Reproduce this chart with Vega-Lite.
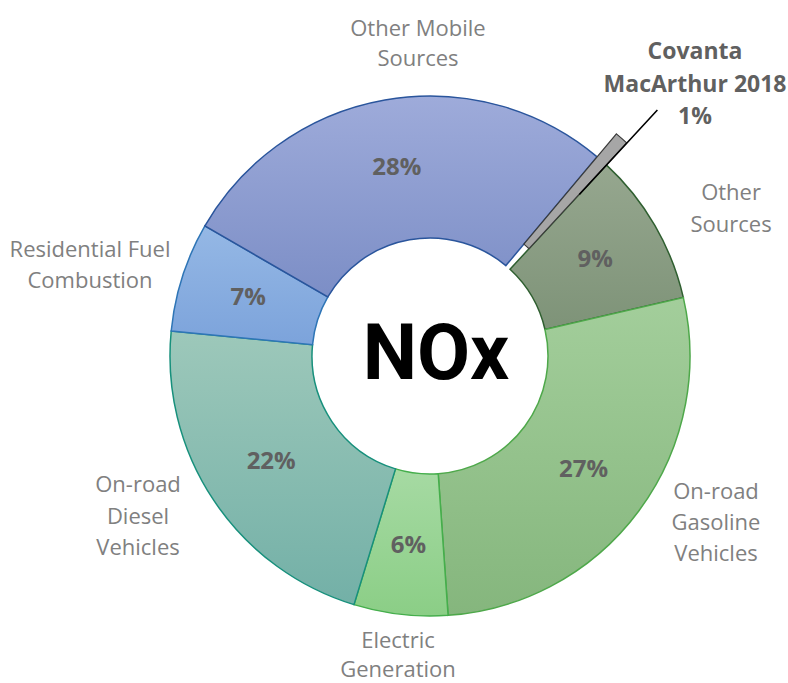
{
  "$schema": "https://vega.github.io/schema/vega-lite/v6.json",
  "width": 520,
  "height": 520,
  "autosize": {"type": "none"},
  "padding": {"left": 170, "top": 96, "right": 98, "bottom": 67},
  "background": "white",
  "config": {"view": {"stroke": null}},
  "data": {
    "values": [
      {"idx": 1, "category": "Covanta MacArthur 2018", "label": "Covanta\nMacArthur 2018\n1%", "value": 0.75, "pct": "1%"},
      {"idx": 2, "category": "Other Sources", "label": "Other\nSources", "value": 9.53, "pct": "9%"},
      {"idx": 3, "category": "On-road Gasoline Vehicles", "label": "On-road\nGasoline\nVehicles", "value": 27.5, "pct": "27%"},
      {"idx": 4, "category": "Electric Generation", "label": "Electric\nGeneration", "value": 5.83, "pct": "6%"},
      {"idx": 5, "category": "On-road Diesel Vehicles", "label": "On-road\nDiesel\nVehicles", "value": 21.81, "pct": "22%"},
      {"idx": 6, "category": "Residential Fuel Combustion", "label": "Residential Fuel\nCombustion", "value": 6.81, "pct": "7%"},
      {"idx": 7, "category": "Other Mobile Sources", "label": "Other Mobile\nSources", "value": 27.77, "pct": "28%"}
    ]
  },
  "encoding": {
    "theta": {"field": "value", "type": "quantitative", "stack": true, "scale": {"domain": [0, 100], "range": [0.69813, 6.98132]}},
    "order": {"field": "idx", "type": "quantitative"}
  },
  "layer": [
    {
      "mark": {"type": "arc", "radius": 260, "radius2": 118, "strokeWidth": 1.5},
      "encoding": {
        "fill": {
          "condition": [
            {"test": "datum.idx === 2", "value": {"gradient": "linear", "x1": 0, "y1": 0, "x2": 0, "y2": 1, "stops": [{"offset": 0, "color": "#96A78F"}, {"offset": 1, "color": "#7E9378"}]}},
            {"test": "datum.idx === 3", "value": {"gradient": "linear", "x1": 0, "y1": 0, "x2": 0, "y2": 1, "stops": [{"offset": 0, "color": "#A3CE9B"}, {"offset": 1, "color": "#85B67D"}]}},
            {"test": "datum.idx === 4", "value": {"gradient": "linear", "x1": 0, "y1": 0, "x2": 0, "y2": 1, "stops": [{"offset": 0, "color": "#A6DAA3"}, {"offset": 1, "color": "#8BCE86"}]}},
            {"test": "datum.idx === 5", "value": {"gradient": "linear", "x1": 0, "y1": 0, "x2": 0, "y2": 1, "stops": [{"offset": 0, "color": "#9DC8BA"}, {"offset": 1, "color": "#73B0A7"}]}},
            {"test": "datum.idx === 6", "value": {"gradient": "linear", "x1": 0, "y1": 0, "x2": 0, "y2": 1, "stops": [{"offset": 0, "color": "#95B8E5"}, {"offset": 1, "color": "#7CA3DB"}]}},
            {"test": "datum.idx === 7", "value": {"gradient": "linear", "x1": 0, "y1": 0, "x2": 0, "y2": 1, "stops": [{"offset": 0, "color": "#9EABDA"}, {"offset": 1, "color": "#7C8EC6"}]}}
          ],
          "value": "#A6A6A6"
        },
        "stroke": {
          "condition": [
            {"test": "datum.idx === 2", "value": "#2F5F30"},
            {"test": "datum.idx === 3", "value": "#4EA84A"},
            {"test": "datum.idx === 4", "value": "#45AE4C"},
            {"test": "datum.idx === 5", "value": "#17907C"},
            {"test": "datum.idx === 6", "value": "#2E75B6"},
            {"test": "datum.idx === 7", "value": "#2A559C"}
          ],
          "value": "#404040"
        },
        "opacity": {"condition": {"test": "datum.idx === 1", "value": 0}, "value": 1}
      }
    },
    {
      "mark": {"type": "arc", "radius": 290, "radius2": 146, "strokeWidth": 1.2, "fill": "#A6A6A6", "stroke": "#3A3A3A"},
      "encoding": {
        "opacity": {"condition": {"test": "datum.idx === 1", "value": 1}, "value": 0}
      }
    },
    {
      "mark": {"type": "arc", "radius": 335, "radius2": 220, "padAngle": 0.3, "thetaOffset": 0.0244, "fill": null, "stroke": "#000000", "strokeWidth": 1.6},
      "encoding": {
        "opacity": {"condition": {"test": "datum.idx === 1", "value": 1}, "value": 0}
      }
    },
    {
      "mark": {"type": "text", "radius": 191, "font": "Open Sans", "fontWeight": "bold", "fontSize": 24, "fill": "#606060", "align": "center", "baseline": "middle"},
      "encoding": {
        "text": {"condition": {"test": "datum.idx === 1", "value": ""}, "field": "pct", "type": "nominal"}
      }
    },
    {
      "mark": {"type": "text", "radius": 380.5, "thetaOffset": 0.0489, "dy": -30.5, "font": "Open Sans", "fontWeight": "bold", "fontSize": 23, "lineHeight": 32.5, "lineBreak": "\n", "fill": "#606060", "align": "center", "baseline": "middle"},
      "encoding": {
        "text": {"condition": {"test": "datum.idx === 1", "field": "label", "type": "nominal"}, "value": ""}
      }
    },
    {
      "mark": {"type": "text", "radius": 334.8, "thetaOffset": 0.0732, "dy": -16, "font": "Open Sans", "fontSize": 22, "lineHeight": 32, "lineBreak": "\n", "fill": "#808080", "align": "center", "baseline": "middle"},
      "encoding": {
        "text": {"condition": {"test": "datum.idx === 2", "field": "label", "type": "nominal"}, "value": ""}
      }
    },
    {
      "mark": {"type": "text", "radius": 331.2, "thetaOffset": -0.1087, "dy": -31, "font": "Open Sans", "fontSize": 22, "lineHeight": 31, "lineBreak": "\n", "fill": "#808080", "align": "center", "baseline": "middle"},
      "encoding": {
        "text": {"condition": {"test": "datum.idx === 3", "field": "label", "type": "nominal"}, "value": ""}
      }
    },
    {
      "mark": {"type": "text", "radius": 303.7, "thetaOffset": -0.0079, "dy": -17, "font": "Open Sans", "fontSize": 22, "lineHeight": 29, "lineBreak": "\n", "fill": "#808080", "align": "center", "baseline": "middle"},
      "encoding": {
        "text": {"condition": {"test": "datum.idx === 4", "field": "label", "type": "nominal"}, "value": ""}
      }
    },
    {
      "mark": {"type": "text", "radius": 333.4, "thetaOffset": 0.0851, "dy": -31.5, "font": "Open Sans", "fontSize": 22, "lineHeight": 31.5, "lineBreak": "\n", "fill": "#808080", "align": "center", "baseline": "middle"},
      "encoding": {
        "text": {"condition": {"test": "datum.idx === 5", "field": "label", "type": "nominal"}, "value": ""}
      }
    },
    {
      "mark": {"type": "text", "radius": 351.8, "thetaOffset": -0.0501, "dy": -15.5, "font": "Open Sans", "fontSize": 22, "lineHeight": 31, "lineBreak": "\n", "fill": "#808080", "align": "center", "baseline": "middle"},
      "encoding": {
        "text": {"condition": {"test": "datum.idx === 6", "field": "label", "type": "nominal"}, "value": ""}
      }
    },
    {
      "mark": {"type": "text", "radius": 313.2, "thetaOffset": 0.1359, "dy": -14, "font": "Open Sans", "fontSize": 22, "lineHeight": 30, "lineBreak": "\n", "fill": "#808080", "align": "center", "baseline": "middle"},
      "encoding": {
        "text": {"condition": {"test": "datum.idx === 7", "field": "label", "type": "nominal"}, "value": ""}
      }
    },
    {
      "transform": [{"filter": "datum.idx === 7"}],
      "mark": {"type": "text", "text": "NOx", "font": "Roboto", "fontWeight": "bold", "fontSize": 77, "fill": "#000000", "align": "center", "baseline": "middle", "dx": 6, "dy": 0}
    }
  ]
}
